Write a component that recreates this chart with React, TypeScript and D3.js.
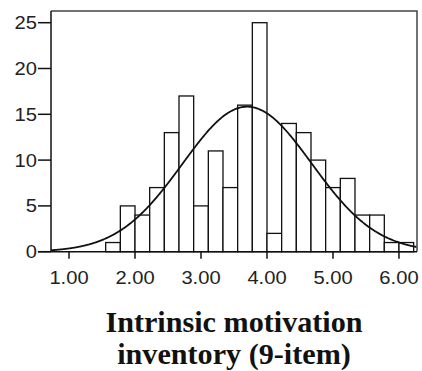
import React from "react";
import * as d3 from "d3";

// Histogram of scale scores, bins of width 2/9 starting at 1.556
const BIN_START = 14 / 9;
const BIN_WIDTH = 2 / 9;
const binCounts = [1, 5, 4, 7, 13, 17, 5, 11, 7, 16, 25, 2, 14, 13, 10, 7, 8, 4, 4, 1, 1];
const xTicks = [1, 2, 3, 4, 5, 6];
const yTicks = [0, 5, 10, 15, 20, 25];
const CURVE_MEAN = 3.7;
const CURVE_SD = 0.98;
const titleLines = ["Intrinsic motivation", "inventory (9-item)"];

const W = 422;
const H = 371;
const left = 51;
const right = 417;
const top = 11;
const zeroY = 251.7;

export default function App() {
  const x = d3.scaleLinear().domain([0.727, 6.273]).range([left, right]);
  const y = d3.scaleLinear().domain([0, 25]).range([zeroY, 22.7]);

  const bins = binCounts.map((c, i) => {
    const x0 = BIN_START + i * BIN_WIDTH;
    return { x0, x1: x0 + BIN_WIDTH, c };
  });

  const n = d3.sum(binCounts);
  const pdf = (v: number) =>
    (n * BIN_WIDTH) / (CURVE_SD * Math.sqrt(2 * Math.PI)) *
    Math.exp(-0.5 * ((v - CURVE_MEAN) / CURVE_SD) ** 2);
  const curvePts = d3.range(0.727, 6.2731, 0.01).map((v) => [v, pdf(v)] as [number, number]);
  const line = d3
    .line<[number, number]>()
    .x((d) => x(d[0]))
    .y((d) => y(d[1]))
    .curve(d3.curveBasis);

  const tickFont = "'Liberation Sans', Arial, sans-serif";
  const sx = 1.12;

  return (
    <svg width={W} height={H} style={{ position: "absolute", left: 0, top: 0, background: "#fff" }}>
      <rect x={0} y={0} width={W} height={H} fill="#fff" />
      {/* bars */}
      {bins.map((b, i) => (
        <rect
          key={i}
          x={x(b.x0)}
          y={y(b.c)}
          width={x(b.x1) - x(b.x0)}
          height={zeroY - y(b.c)}
          fill="#fff"
          stroke="#111"
          strokeWidth={1.3}
        />
      ))}
      {/* fitted normal curve */}
      <path d={line(curvePts) || ""} fill="none" stroke="#111" strokeWidth={1.8} />
      {/* frame */}
      <path
        d={`M${left},${top}H${right}V${zeroY}`}
        fill="none"
        stroke="#444"
        strokeWidth={1.5}
      />
      {/* axes */}
      <line x1={left} y1={top} x2={left} y2={zeroY} stroke="#111" strokeWidth={1.5} />
      <line x1={left - 13} y1={zeroY} x2={right} y2={zeroY} stroke="#111" strokeWidth={1.5} />
      {yTicks.map((t) => (
        <g key={t}>
          <line x1={left - 13} x2={left} y1={y(t)} y2={y(t)} stroke="#111" strokeWidth={1.5} />
          <text
            transform={`translate(${left - 14},${y(t) + 6.5}) scale(${sx},1)`}
            textAnchor="end"
            fontFamily={tickFont}
            fontSize={18}
            fill="#222"
          >
            {t}
          </text>
        </g>
      ))}
      {xTicks.map((t) => (
        <g key={t}>
          <line x1={x(t)} x2={x(t)} y1={zeroY} y2={zeroY + 7} stroke="#111" strokeWidth={1.5} />
          <text
            transform={`translate(${x(t)},${284.3}) scale(${sx},1)`}
            textAnchor="middle"
            fontFamily={tickFont}
            fontSize={18}
            fill="#222"
          >
            {t.toFixed(2)}
          </text>
        </g>
      ))}
      {/* axis title */}
      {titleLines.map((s, i) => (
        <text
          key={i}
          transform={`translate(${(left + right) / 2},${331.7 + i * 32.5}) scale(1.04,1)`}
          textAnchor="middle"
          fontFamily="'Liberation Serif', 'Times New Roman', serif"
          fontWeight="bold"
          fontSize={29}
          fill="#111"
        >
          {s}
        </text>
      ))}
    </svg>
  );
}
